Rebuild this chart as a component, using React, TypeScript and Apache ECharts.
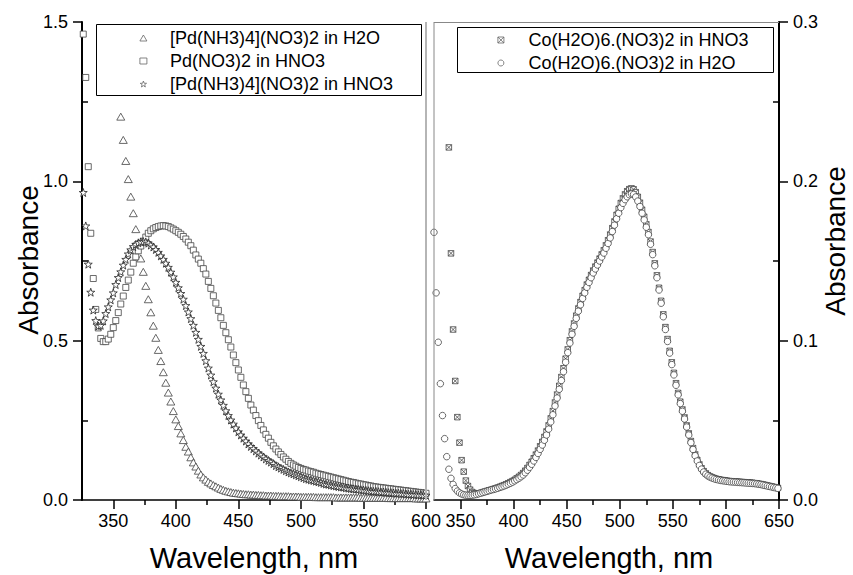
import React, { useEffect, useRef } from "react";
import * as echarts from "echarts";

const FONT = '"Liberation Sans", Arial, Helvetica, sans-serif';

// ---- Left panel: Pd solutions (wavelength step 2 nm) ----
const leftNames = ["[Pd(NH3)4](NO3)2 in H2O", "Pd(NO3)2 in HNO3", "[Pd(NH3)4](NO3)2 in HNO3"];
const pdAmmH2OStart = 356;
const pdAmmH2O = [
  1.203, 1.130, 1.064, 1.007, 0.952, 0.900, 0.850, 0.805, 0.758, 0.716,
  0.672, 0.630, 0.589, 0.547, 0.509, 0.471, 0.436, 0.401, 0.368, 0.337,
  0.309, 0.279, 0.253, 0.232, 0.209, 0.188, 0.167, 0.152, 0.134, 0.118,
  0.105, 0.092, 0.080, 0.071, 0.064, 0.057, 0.052, 0.047, 0.043, 0.039,
  0.035, 0.032, 0.029, 0.027, 0.025, 0.023, 0.022, 0.021, 0.020, 0.019,
  0.018, 0.018, 0.017, 0.017, 0.016, 0.016, 0.015, 0.015, 0.014, 0.014,
  0.014, 0.013, 0.013, 0.013, 0.012, 0.012, 0.012, 0.012, 0.011, 0.011,
  0.011, 0.011, 0.010, 0.010, 0.010, 0.010, 0.010, 0.010, 0.009, 0.009,
  0.009, 0.009, 0.009, 0.009, 0.009, 0.009, 0.008, 0.008, 0.008, 0.008,
  0.008, 0.008, 0.008, 0.008, 0.008, 0.008, 0.007, 0.007, 0.007, 0.007,
  0.007, 0.007, 0.007, 0.007, 0.007, 0.007, 0.007, 0.006, 0.006, 0.006,
  0.006, 0.006, 0.006, 0.006, 0.006, 0.006, 0.006, 0.006, 0.005, 0.005,
  0.005, 0.005, 0.005,
];
const pdNitrateStart = 326;
const pdNitrate = [
  1.462, 1.326, 1.046, 0.837, 0.695, 0.598, 0.540, 0.507, 0.497, 0.497,
  0.505, 0.520, 0.541, 0.563, 0.588, 0.615, 0.640, 0.667, 0.690, 0.715,
  0.743, 0.763, 0.782, 0.797, 0.812, 0.825, 0.837, 0.845, 0.851, 0.855,
  0.858, 0.860, 0.861, 0.860, 0.858, 0.854, 0.850, 0.845, 0.840, 0.834,
  0.827, 0.819, 0.809, 0.798, 0.784, 0.769, 0.756, 0.743, 0.726, 0.709,
  0.686, 0.664, 0.641, 0.618, 0.595, 0.572, 0.548, 0.525, 0.503, 0.480,
  0.455, 0.431, 0.408, 0.385, 0.361, 0.340, 0.319, 0.298, 0.282, 0.265,
  0.249, 0.234, 0.220, 0.206, 0.194, 0.181, 0.170, 0.160, 0.151, 0.143,
  0.135, 0.128, 0.121, 0.115, 0.110, 0.106, 0.102, 0.099, 0.096, 0.094,
  0.091, 0.089, 0.087, 0.084, 0.082, 0.080, 0.078, 0.076, 0.074, 0.072,
  0.070, 0.068, 0.066, 0.064, 0.062, 0.060, 0.058, 0.056, 0.055, 0.053,
  0.051, 0.050, 0.048, 0.047, 0.045, 0.044, 0.042, 0.041, 0.040, 0.039,
  0.038, 0.037, 0.036, 0.035, 0.034, 0.033, 0.032, 0.031, 0.030, 0.029,
  0.028, 0.027, 0.026, 0.025, 0.024, 0.023, 0.022, 0.021,
];
const pdAmmHNO3Start = 326;
const pdAmmHNO3 = [
  0.965, 0.860, 0.740, 0.652, 0.596, 0.563, 0.546, 0.548, 0.562, 0.585,
  0.606, 0.628, 0.650, 0.676, 0.698, 0.716, 0.737, 0.755, 0.772, 0.785,
  0.795, 0.802, 0.807, 0.810, 0.811, 0.810, 0.806, 0.800, 0.794, 0.786,
  0.777, 0.766, 0.755, 0.743, 0.730, 0.715, 0.700, 0.683, 0.666, 0.648,
  0.630, 0.610, 0.590, 0.569, 0.548, 0.526, 0.504, 0.482, 0.460, 0.437,
  0.414, 0.392, 0.371, 0.351, 0.332, 0.314, 0.297, 0.280, 0.265, 0.251,
  0.238, 0.226, 0.214, 0.204, 0.194, 0.185, 0.176, 0.168, 0.161, 0.154,
  0.147, 0.141, 0.135, 0.129, 0.124, 0.119, 0.114, 0.108, 0.104, 0.100,
  0.096, 0.092, 0.088, 0.085, 0.082, 0.079, 0.076, 0.073, 0.070, 0.067,
  0.065, 0.063, 0.061, 0.059, 0.057, 0.055, 0.052, 0.050, 0.049, 0.047,
  0.045, 0.044, 0.042, 0.041, 0.040, 0.038, 0.037, 0.036, 0.035, 0.034,
  0.033, 0.032, 0.031, 0.030, 0.029, 0.028, 0.027, 0.027, 0.026, 0.025,
  0.025, 0.024, 0.023, 0.023, 0.022, 0.021, 0.021, 0.020, 0.020, 0.019,
  0.018, 0.018, 0.017, 0.017, 0.016, 0.016, 0.015, 0.015,
];
const leftStep = 2;

// ---- Right panel: Co solutions (wavelength step 2 nm) ----
const rightNames = ["Co(H2O)6.(NO3)2 in HNO3", "Co(H2O)6.(NO3)2 in H2O"];
const coHNO3Start = 339;
const coHNO3 = [
  0.2213, 0.1548, 0.1070, 0.0747, 0.0520, 0.0360, 0.0250, 0.0178, 0.0122, 0.0088,
  0.0065, 0.0050, 0.0043, 0.0041, 0.0042, 0.0045, 0.0049, 0.0053, 0.0057, 0.0061,
  0.0065, 0.0069, 0.0073, 0.0078, 0.0083, 0.0088, 0.0093, 0.0099, 0.0105, 0.0112,
  0.0119, 0.0127, 0.0136, 0.0146, 0.0157, 0.0169, 0.0184, 0.0201, 0.0220, 0.0240,
  0.0262, 0.0285, 0.0310, 0.0337, 0.0365, 0.0396, 0.0430, 0.0468, 0.0512, 0.0558,
  0.0612, 0.0662, 0.0717, 0.0772, 0.0827, 0.0887, 0.0945, 0.1003, 0.1058, 0.1108,
  0.1157, 0.1202, 0.1242, 0.1282, 0.1317, 0.1352, 0.1382, 0.1412, 0.1440, 0.1465,
  0.1490, 0.1515, 0.1541, 0.1567, 0.1598, 0.1630, 0.1666, 0.1706, 0.1748, 0.1790,
  0.1828, 0.1864, 0.1893, 0.1918, 0.1938, 0.1951, 0.1956, 0.1950, 0.1932, 0.1903,
  0.1866, 0.1822, 0.1778, 0.1730, 0.1682, 0.1622, 0.1556, 0.1485, 0.1410, 0.1332,
  0.1250, 0.1165, 0.1085, 0.1010, 0.0936, 0.0864, 0.0798, 0.0733, 0.0672, 0.0617,
  0.0568, 0.0518, 0.0468, 0.0418, 0.0370, 0.0326, 0.0286, 0.0252, 0.0223, 0.0199,
  0.0181, 0.0167, 0.0156, 0.0148, 0.0142, 0.0137, 0.0133, 0.0130, 0.0127, 0.0125,
  0.0123, 0.0121, 0.0119, 0.0118, 0.0117, 0.0116, 0.0115, 0.0114, 0.0113, 0.0112,
  0.0111, 0.0110, 0.0109, 0.0108, 0.0106, 0.0104, 0.0102, 0.0100, 0.0097, 0.0094,
  0.0091, 0.0088, 0.0085, 0.0082, 0.0079, 0.0076,
];
const coH2OStart = 325;
const coH2O = [
  0.1680, 0.1300, 0.0990, 0.0730, 0.0530, 0.0385, 0.0272, 0.0193, 0.0136, 0.0098,
  0.0072, 0.0056, 0.0045, 0.0038, 0.0033, 0.0030, 0.0029, 0.0029, 0.0030, 0.0032,
  0.0035, 0.0039, 0.0043, 0.0047, 0.0051, 0.0055, 0.0059, 0.0063, 0.0066, 0.0070,
  0.0074, 0.0079, 0.0083, 0.0088, 0.0093, 0.0099, 0.0105, 0.0112, 0.0120, 0.0128,
  0.0137, 0.0146, 0.0157, 0.0171, 0.0187, 0.0205, 0.0224, 0.0245, 0.0267, 0.0292,
  0.0318, 0.0345, 0.0375, 0.0408, 0.0445, 0.0490, 0.0535, 0.0590, 0.0640, 0.0695,
  0.0750, 0.0805, 0.0865, 0.0925, 0.0985, 0.1040, 0.1090, 0.1140, 0.1185, 0.1225,
  0.1265, 0.1300, 0.1335, 0.1365, 0.1395, 0.1425, 0.1450, 0.1475, 0.1500, 0.1525,
  0.1550, 0.1580, 0.1610, 0.1645, 0.1685, 0.1725, 0.1765, 0.1800, 0.1835, 0.1862,
  0.1885, 0.1903, 0.1916, 0.1922, 0.1918, 0.1902, 0.1876, 0.1842, 0.1800, 0.1758,
  0.1712, 0.1665, 0.1605, 0.1540, 0.1470, 0.1395, 0.1318, 0.1235, 0.1150, 0.1070,
  0.0995, 0.0922, 0.0850, 0.0785, 0.0720, 0.0660, 0.0605, 0.0557, 0.0508, 0.0458,
  0.0408, 0.0360, 0.0317, 0.0278, 0.0245, 0.0217, 0.0194, 0.0176, 0.0162, 0.0152,
  0.0144, 0.0138, 0.0133, 0.0129, 0.0126, 0.0123, 0.0121, 0.0119, 0.0117, 0.0115,
  0.0114, 0.0113, 0.0112, 0.0111, 0.0110, 0.0109, 0.0108, 0.0107, 0.0106, 0.0105,
  0.0104, 0.0103, 0.0101, 0.0099, 0.0097, 0.0094, 0.0091, 0.0088, 0.0085, 0.0082,
  0.0079, 0.0076, 0.0073,
];
const rightStep = 2;

// ---- Axes ticks ----
const leftXMajor = [350, 400, 450, 500, 550, 600];
const leftXMinor = [375, 425, 475, 525, 575];
const rightXMajor = [350, 400, 450, 500, 550, 600, 650];
const rightXMinor = [375, 425, 475, 525, 575, 625];
const leftYMajor = [0, 0.5, 1.0, 1.5];
const leftYMinor = [0.25, 0.75, 1.25];
const rightYMajor = [0, 0.1, 0.2, 0.3];
const rightYMinor = [0.05, 0.15, 0.25];

const STAR =
  "path://M0,-10 L2.35,-3.24 L9.51,-3.09 L3.8,1.24 L5.88,8.09 L0,4 L-5.88,8.09 L-3.8,1.24 L-9.51,-3.09 L-2.35,-3.24 Z";
const BOXX = "path://M0,0 L10,0 L10,10 L0,10 Z M0,0 L10,10 M10,0 L0,10";

const toPairs = (start: number, step: number, vals: number[]) =>
  vals.map((v, i) => [start + i * step, v]);

const majorX = (grid: number, min: number, max: number, ticks: number[]) => ({
  gridIndex: grid,
  type: "value",
  position: "bottom",
  min,
  max,
  axisLine: { show: true, onZero: false, lineStyle: { color: "#000", width: 1.5 } },
  axisTick: { show: true, customValues: ticks, length: 9, lineStyle: { color: "#000", width: 1.5 } },
  axisLabel: {
    show: true,
    customValues: ticks,
    margin: 12,
    color: "#000",
    fontSize: 18,
    fontFamily: FONT,
  },
  splitLine: { show: false },
});
const minorX = (grid: number, min: number, max: number, ticks: number[]) => ({
  gridIndex: grid,
  type: "value",
  position: "bottom",
  min,
  max,
  axisLine: { show: false, onZero: false },
  axisTick: { show: true, customValues: ticks, length: 5, lineStyle: { color: "#000", width: 1.5 } },
  axisLabel: { show: false },
  splitLine: { show: false },
});
const majorY = (grid: number, pos: string, max: number, ticks: number[]) => ({
  gridIndex: grid,
  type: "value",
  position: pos,
  min: 0,
  max,
  axisLine: { show: true, onZero: false, lineStyle: { color: "#000", width: 2 } },
  axisTick: { show: true, customValues: ticks, length: 9, lineStyle: { color: "#000", width: 1.5 } },
  axisLabel: {
    show: true,
    customValues: ticks,
    margin: 14,
    color: "#000",
    fontSize: 18,
    fontFamily: FONT,
    formatter: (v: number) => v.toFixed(1),
  },
  splitLine: { show: false },
});
const minorY = (grid: number, pos: string, max: number, ticks: number[]) => ({
  gridIndex: grid,
  type: "value",
  position: pos,
  min: 0,
  max,
  axisLine: { show: false, onZero: false },
  axisTick: { show: true, inside: true, customValues: ticks, length: 6, lineStyle: { color: "#000", width: 1.5 } },
  axisLabel: { show: false },
  splitLine: { show: false },
});

const markerStyle = (stroke: string) => ({ color: "#fff", borderColor: stroke, borderWidth: 0.8, opacity: 1 });
const legendItemStyle = { color: "#fff", borderColor: "#666", borderWidth: 0.8 };

const legendBase = {
  orient: "vertical",
  padding: 0,
  itemWidth: 7,
  itemHeight: 6,
  itemGap: 5,
  selectedMode: false,
  z: 30,
  textStyle: { fontSize: 18, fontFamily: FONT, color: "#000", lineHeight: 18, padding: [0, 0, 0, 18] },
};

const titleStyle = { fontSize: 29, fontFamily: FONT, fill: "#000", align: "center", verticalAlign: "middle" };
const yTitleStyle = { ...titleStyle, fontSize: 28 };

export default function App() {
  const ref = useRef<HTMLDivElement>(null);
  useEffect(() => {
    if (!ref.current) return;
    const chart = echarts.init(ref.current, null, { renderer: "svg" });
    const option: any = {
      animation: false,
      backgroundColor: "#fff",
      grid: [
        { left: 82, top: 22, width: 344, height: 478 },
        { left: 434, top: 22, width: 345, height: 478 },
      ],
      xAxis: [
        majorX(0, 325, 600, leftXMajor),
        majorX(1, 325, 650, rightXMajor),
        minorX(0, 325, 600, leftXMinor),
        minorX(1, 325, 650, rightXMinor),
      ],
      yAxis: [
        majorY(0, "left", 1.5, leftYMajor),
        majorY(1, "right", 0.3, rightYMajor),
        minorY(0, "left", 1.5, leftYMinor),
        minorY(1, "right", 0.3, rightYMinor),
      ],
      legend: [
        {
          ...legendBase,
          left: 139.5,
          top: 29,
          data: [
            { name: leftNames[0], icon: "triangle", itemStyle: legendItemStyle },
            { name: leftNames[1], icon: "rect", itemStyle: legendItemStyle },
            { name: leftNames[2], icon: STAR, itemStyle: legendItemStyle },
          ],
        },
        {
          ...legendBase,
          left: 497.5,
          top: 31,
          textStyle: { ...legendBase.textStyle, padding: [0, 0, 0, 19] },
          data: [
            { name: rightNames[0], icon: BOXX, itemStyle: legendItemStyle },
            { name: rightNames[1], icon: "circle", itemStyle: legendItemStyle },
          ],
        },
      ],
      series: [
        {
          name: leftNames[0],
          type: "scatter",
          xAxisIndex: 0,
          yAxisIndex: 0,
          symbol: "triangle",
          symbolSize: [8, 7],
          itemStyle: markerStyle("#444"),
          data: toPairs(pdAmmH2OStart, leftStep, pdAmmH2O),
          z: 2,
        },
        {
          name: leftNames[1],
          type: "scatter",
          xAxisIndex: 0,
          yAxisIndex: 0,
          symbol: "rect",
          symbolSize: 6,
          itemStyle: markerStyle("#444"),
          data: toPairs(pdNitrateStart, leftStep, pdNitrate),
          z: 2,
        },
        {
          name: leftNames[2],
          type: "scatter",
          xAxisIndex: 0,
          yAxisIndex: 0,
          symbol: STAR,
          symbolSize: 8,
          itemStyle: markerStyle("#222"),
          data: toPairs(pdAmmHNO3Start, leftStep, pdAmmHNO3),
          z: 2,
        },
        {
          name: rightNames[0],
          type: "scatter",
          xAxisIndex: 1,
          yAxisIndex: 1,
          symbol: BOXX,
          symbolSize: 5.5,
          itemStyle: markerStyle("#444"),
          data: toPairs(coHNO3Start, rightStep, coHNO3),
          z: 2,
        },
        {
          name: rightNames[1],
          type: "scatter",
          xAxisIndex: 1,
          yAxisIndex: 1,
          symbol: "circle",
          symbolSize: 6.5,
          itemStyle: markerStyle("#444"),
          data: toPairs(coH2OStart, rightStep, coH2O),
          z: 2,
        },
      ],
      graphic: [
        { type: "line", z: 5, shape: { x1: 426, y1: 22, x2: 426, y2: 500 }, style: { stroke: "#b5b5b5", lineWidth: 2 } },
        { type: "line", z: 5, shape: { x1: 434, y1: 22, x2: 434, y2: 500 }, style: { stroke: "#888", lineWidth: 1 } },
        { type: "line", z: 5, shape: { x1: 434, y1: 22.5, x2: 779, y2: 22.5 }, style: { stroke: "#888", lineWidth: 1 } },
        { type: "rect", z: 20, shape: { x: 96.5, y: 24.5, width: 325, height: 71 }, style: { fill: "#fff", stroke: "#000", lineWidth: 1 } },
        { type: "rect", z: 20, shape: { x: 457.5, y: 27.5, width: 316, height: 45 }, style: { fill: "#fff", stroke: "#000", lineWidth: 1 } },
        { type: "text", z: 20, x: 28, y: 260, rotation: Math.PI / 2, style: { ...yTitleStyle, text: "Absorbance" } },
        { type: "text", z: 20, x: 835, y: 241, rotation: Math.PI / 2, style: { ...yTitleStyle, text: "Absorbance" } },
        { type: "text", z: 20, x: 254, y: 558, style: { ...titleStyle, text: "Wavelength, nm" } },
        { type: "text", z: 20, x: 609, y: 558, style: { ...titleStyle, text: "Wavelength, nm" } },
      ],
    };
    chart.setOption(option);
    return () => chart.dispose();
  }, []);
  return <div ref={ref} style={{ position: "fixed", left: 0, top: 0, width: 853, height: 575 }} />;
}
